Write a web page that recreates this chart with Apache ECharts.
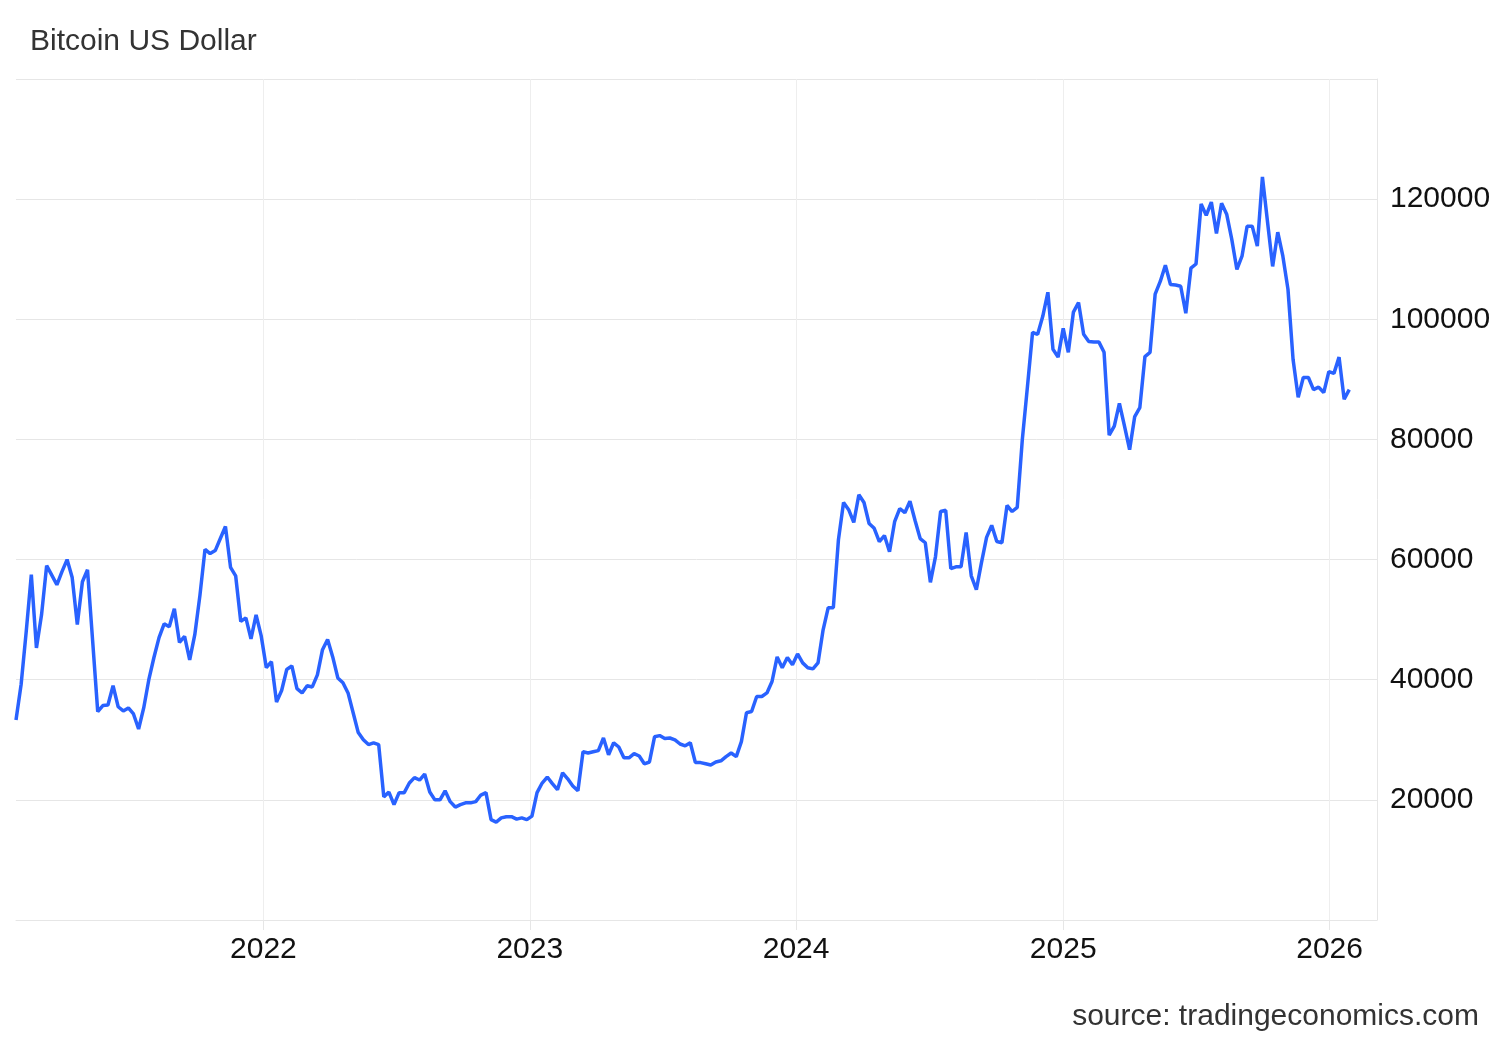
<!DOCTYPE html>
<html>
<head>
<meta charset="UTF-8">
<title>Bitcoin US Dollar</title>
<style>html,body{margin:0;padding:0;background:#fff}</style>
</head>
<body>
<div id="chart" style="width:1500px;height:1040px"></div>
<script src="https://cdn.jsdelivr.net/npm/echarts@6/dist/echarts.min.js"></script>
<script>
// weekly closes, first week 2021-01-27
var startDate = Date.UTC(2021, 0, 27)
var prices = [
	33.3, 39.2, 48.0, 57.5, 45.3, 50.8, 59.0, 57.4, 55.8, 58.0,
	60.0, 57.0, 49.2, 56.3, 58.3, 46.5, 34.7, 35.7, 35.8, 39.0,
	35.5, 34.8, 35.3, 34.3, 31.8, 35.3, 40.0, 43.7, 47.0, 49.3,
	48.8, 51.8, 46.2, 47.2, 43.3, 47.5, 54.0, 61.7, 61.0, 61.5,
	63.5, 65.5, 58.7, 57.3, 49.7, 50.3, 46.8, 50.8, 47.3, 42.0,
	43.0, 36.3, 38.2, 41.7, 42.3, 38.5, 37.8, 39.0, 38.8, 40.8,
	45.0, 46.7, 43.8, 40.3, 39.5, 37.8, 34.5, 31.2, 30.0, 29.2,
	29.5, 29.2, 20.5, 21.3, 19.2, 21.2, 21.2, 22.8, 23.7, 23.3,
	24.3, 21.3, 20.0, 20.0, 21.5, 19.7, 18.8, 19.2, 19.5, 19.5,
	19.7, 20.8, 21.2, 16.7, 16.3, 17.0, 17.2, 17.2, 16.8, 17.0,
	16.7, 17.3, 21.2, 22.8, 23.8, 22.7, 21.7, 24.5, 23.5, 22.3,
	21.5, 28.0, 27.8, 28.0, 28.2, 30.3, 27.5, 29.5, 28.8, 27.0,
	27.0, 27.7, 27.3, 26.0, 26.3, 30.5, 30.7, 30.2, 30.3, 30.0,
	29.3, 29.0, 29.5, 26.2, 26.2, 26.0, 25.8, 26.3, 26.5, 27.2,
	27.8, 27.2, 29.7, 34.5, 34.7, 37.2, 37.2, 37.8, 39.7, 43.8,
	42.0, 43.7, 42.5, 44.3, 42.8, 42.0, 41.8, 42.8, 48.3, 52.0,
	52.0, 63.3, 69.5, 68.3, 66.2, 70.8, 69.5, 66.0, 65.2, 63.0,
	64.0, 61.3, 66.3, 68.5, 67.8, 69.7, 66.5, 63.5, 62.8, 56.2,
	60.5, 68.0, 68.2, 58.5, 58.8, 58.8, 64.5, 57.3, 55.0, 59.5,
	63.7, 65.7, 63.0, 62.8, 69.0, 68.0, 68.7, 80.0, 88.8, 97.8,
	97.5, 100.5, 104.5, 95.0, 93.7, 98.5, 94.5, 101.2, 102.8, 97.5,
	96.3, 96.2, 96.2, 94.5, 80.7, 82.2, 86.0, 82.2, 78.3, 83.8,
	85.3, 93.8, 94.5, 104.2, 106.3, 109.0, 105.8, 105.7, 105.5, 101.0,
	108.5, 109.2, 119.2, 117.3, 119.5, 114.3, 119.3, 117.5, 113.3, 108.3,
	110.5, 115.5, 115.5, 112.2, 123.7, 116.2, 108.8, 114.5, 110.5, 105.0,
	93.3, 87.0, 90.3, 90.3, 88.3, 88.7, 87.8, 91.3, 91.0, 93.7,
	86.7, 88.3
]
var yearTicks = [2022, 2023, 2024, 2025, 2026]

var week = 7 * 24 * 3600 * 1000
var series = prices.map(function (p, i) { return [startDate + i * week, p * 1000] })
var tickTimes = yearTicks.map(function (y) { return Date.UTC(y, 0, 1) })
var font = 'Liberation Sans, Arial, sans-serif'

var myChart = echarts.init(document.getElementById('chart'))
myChart.setOption({
	animation: false,
	title: {
		text: 'Bitcoin US Dollar',
		left: 25, top: 22,
		textStyle: { fontFamily: font, fontSize: 30, fontWeight: 'normal', color: '#333' }
	},
	graphic: [{
		type: 'text', right: 21, bottom: 8,
		style: { text: 'source: tradingeconomics.com', font: '30px ' + font, fill: '#333' }
	}],
	grid: { left: 16, right: 123, top: 79, bottom: 120 },
	xAxis: {
		type: 'value',
		min: startDate,
		max: Date.UTC(2026, 2, 7),
		axisLine: { show: true, lineStyle: { color: '#e6e6e6' } },
		axisTick: { show: true, customValues: tickTimes, length: 10, lineStyle: { color: '#e6e6e6' } },
		axisLabel: {
			customValues: tickTimes,
			fontFamily: font, fontSize: 30, color: '#111', margin: 15,
			formatter: function (v) { return new Date(v).getUTCFullYear() }
		},
		splitLine: { show: true, lineStyle: { color: '#eeeeee' } }
	},
	yAxis: {
		type: 'value',
		position: 'right',
		min: 0, max: 140000, interval: 20000,
		axisLine: { show: true, lineStyle: { color: '#e6e6e6' } },
		axisTick: { show: false },
		axisLabel: {
			fontFamily: font, fontSize: 30, color: '#111', margin: 13,
			formatter: function (v) { return (v === 0 || v === 140000) ? '' : v }
		},
		splitLine: { lineStyle: { color: '#e6e6e6' } }
	},
	series: [{
		type: 'line',
		data: series,
		symbol: 'none',
		lineStyle: { color: '#2962ff', width: 3.5 }
	}]
})
</script>
</body>
</html>
